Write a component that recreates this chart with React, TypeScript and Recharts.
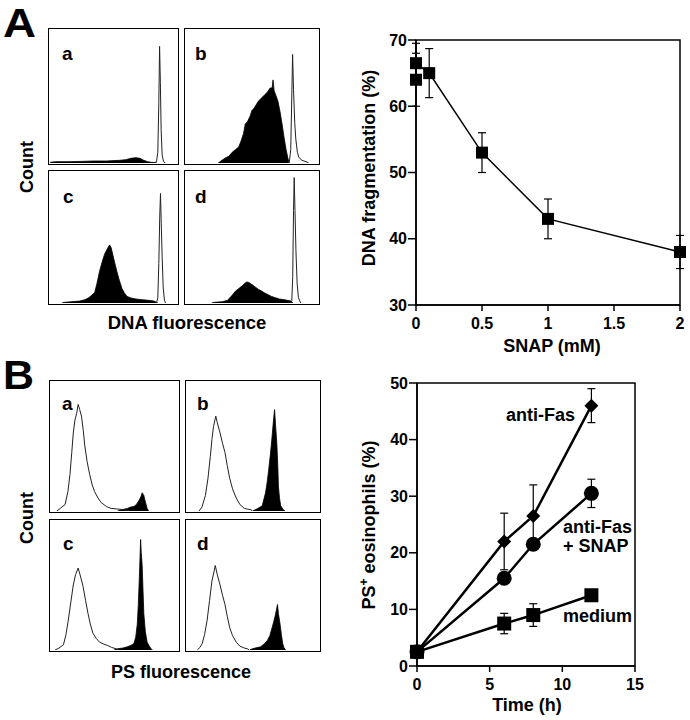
import React from 'react'
import {
  ComposedChart,
  Area,
  Line,
  Scatter,
  XAxis,
  YAxis,
  ErrorBar,
  ReferenceArea,
} from 'recharts'

const FONT = '"Liberation Sans", Arial, Helvetica, sans-serif'

// ---- Panel A histograms (x: 0-100 across box, y: % of box height) ----
const dnaAFill = [[1, 0.5], [5, 1], [15, 1], [25, 1.2], [35, 1.5], [45, 1.5], [55, 2], [60, 2.5], [64, 3.5], [68, 4], [71, 3.5], [74, 2], [77, 1], [80, 0.5], [84, 0.3]]
const dnaAOpen = [[82, 0], [84, 1], [85, 8], [85.8, 45], [86.4, 87], [87, 60], [87.6, 25], [88.4, 6], [89.5, 1], [91, 0]]
const dnaBFill = [[25, 0], [27, 1.5], [30.6, 4], [33, 5], [35.5, 8], [38, 10], [40.4, 12], [42, 16], [44, 22], [45.3, 29], [47, 31], [49, 35], [50.2, 39], [52, 41], [55.1, 46], [57, 48], [60, 51], [62, 53], [64, 56], [65.5, 56], [66.2, 62], [67, 54], [68.5, 50], [69.9, 46], [71.5, 38], [73, 29], [74.5, 19], [76, 10], [77.5, 3], [78.5, 0]]
const dnaBOpen = [[77.5, 0], [78.5, 1], [79.5, 10], [80.3, 50], [80.9, 81], [81.6, 55], [82.5, 30], [83.3, 18], [84.5, 8], [85.7, 4], [88, 2], [91, 1], [93, 0]]
const dnaCFill = [[10, 0], [12, 0.5], [18, 1], [24, 1.5], [28, 2.5], [31, 4], [33.5, 6], [35.7, 8], [37.5, 15], [39.5, 24], [41.5, 31], [43.4, 37], [45.5, 41], [47.3, 44], [48.5, 42], [50, 36], [51.2, 31], [53, 24], [55, 17], [57, 11], [58.9, 7.6], [61, 5], [64, 3.8], [68, 3], [73, 2.5], [78, 2], [82, 1.5], [84, 0.5], [85, 0]]
const dnaCOpen = [[84, 0], [85, 4], [85.8, 30], [86.5, 65], [87.1, 83], [87.7, 60], [88.4, 35], [89.2, 12], [90.2, 2], [91, 0]]
const dnaDFill = [[20, 0], [22, 0.5], [28, 1], [32, 2], [35.6, 6], [38, 9], [40.5, 11], [43, 13], [45, 15], [46.6, 16], [48, 15.5], [50.3, 14], [53, 12], [55, 10.5], [57.6, 9], [60, 7.5], [63, 6], [65, 5], [68, 4], [71, 3], [74.8, 2.5], [77, 2], [79.7, 1.5], [81, 0]]
const dnaDOpen = [[79.5, 0], [80.3, 2], [81, 20], [81.6, 70], [82.1, 95], [82.7, 70], [83.4, 40], [84.3, 15], [85.3, 4], [87, 0]]

// ---- Panel B histograms ----
const psAOpen = [[5.4, 0], [8, 2], [11.8, 5], [14, 15], [15.6, 28], [17, 45], [18.2, 60], [19.5, 70], [20.8, 75], [22, 82], [23.2, 78], [24.6, 73], [26, 62], [27.2, 50], [29, 38], [31, 28], [33, 20], [34.8, 15], [37.5, 10], [40, 6.5], [44, 3.5], [47.7, 2], [53, 1.5], [58, 1], [62, 0]]
const psAFill = [[52.8, 0], [56, 1], [60.5, 2], [63, 3], [65.6, 3.5], [67.5, 5], [69.5, 8], [71, 11], [72, 14], [73.3, 12], [74.5, 7], [75.9, 2], [77, 0]]
const psBOpen = [[9.8, 0], [12, 3], [14.6, 12], [16.5, 25], [18.3, 42], [19.5, 55], [20.7, 65], [22.4, 73], [23.5, 68], [25.6, 60], [27.5, 52], [29.3, 45], [31, 35], [32.9, 25], [35, 17], [37.8, 10], [40.5, 5], [43.9, 2], [46, 1.5], [48.8, 1], [50, 0]]
const psBFill = [[50, 0], [51.2, 0.5], [54, 2], [57.3, 4], [59.8, 14], [61, 22], [62.2, 32], [63.5, 44], [64.7, 57], [65.8, 70], [66.6, 78], [67.4, 65], [68.3, 52], [69, 35], [69.5, 19], [70.3, 10], [71.2, 4], [73.2, 1], [74.5, 0]]
const psCOpen = [[4, 0], [7, 1.5], [10.5, 4], [12.5, 12], [14.3, 23], [16.3, 37], [18.2, 50], [20, 58], [22, 63], [24, 56], [25.8, 49], [27.8, 38], [29.7, 28], [31.5, 20], [33.5, 13], [36, 9], [38.7, 6], [42, 4.5], [45, 3.5], [48, 2], [51.5, 1], [54, 0]]
const psCFill = [[50, 0], [53, 1], [57, 1.5], [60.5, 2.5], [63, 3.5], [65.6, 5], [67, 10], [68.2, 20], [69, 35], [69.7, 53], [70.3, 70], [70.8, 85], [71.3, 75], [72, 65], [72.7, 45], [73.3, 28], [74.5, 14], [75.9, 6], [77.5, 3], [79, 1], [80, 0]]
const psDOpen = [[8.5, 0], [10.5, 2], [12.2, 5], [14, 12], [15.9, 23], [17.7, 38], [19.5, 53], [21, 60], [22, 65], [23.5, 58], [25.6, 50], [27.5, 42], [29.3, 35], [31, 26], [32.9, 17], [35, 11], [37.8, 6], [40.5, 3], [43.9, 1.5], [46, 1], [47.5, 0]]
const psDFill = [[48, 0], [48.8, 0.5], [52, 1.5], [56.1, 2.5], [58.5, 4.5], [61, 7], [63, 11], [64.7, 17], [66, 22], [67.2, 27], [68, 31], [68.8, 35], [69.5, 28], [70.7, 20], [71.7, 12], [72.7, 5], [73.6, 2], [74.4, 0.5], [75, 0]]

// ---- Panel A line chart ----
const snapDose = [0, 0.1, 0.5, 1, 2]
const dnaFrag = [66.5, 65, 53, 43, 38]
const dnaFragErr = [3, 3.7, 3, 3, 2.5]
const extraDose = [0]
const extraFrag = [64]
const extraErr = [4]
const snapTicks = [0, 0.5, 1, 1.5, 2]
const fragTicks = [30, 40, 50, 60, 70]

// ---- Panel B line chart ----
const hours = [0, 6, 8, 12]
const antiFas = [2.5, 22, 26.5, 46]
const antiFasErr = [0, 5, 5.5, 3]
const antiFasSnap = [2.5, 15.5, 21.5, 30.5]
const antiFasSnapErr = [0, 0, 0, 2.5]
const medium = [2.5, 7.5, 9, 12.5]
const mediumErr = [0, 1.8, 2, 0]
const hourTicks = [0, 5, 10, 15]
const psTicks = [0, 10, 20, 30, 40, 50]

const toPts = (arr: number[][]) => arr.map(([x, y]) => ({ x, y }))

function Hist({ left, top, w, h, fill, open }: any) {
  return (
    <div
      style={{
        position: 'absolute', left, top, width: w, height: h,
        border: '1.5px solid #000', boxSizing: 'border-box', background: '#fff',
      }}
    >
      <ComposedChart width={w - 3} height={h - 3} margin={{ top: 0, right: 0, bottom: 0, left: 0 }}>
        <XAxis type="number" dataKey="x" domain={[0, 100]} hide />
        <YAxis type="number" domain={[0, 100]} hide />
        <Area data={toPts(fill)} dataKey="y" type="linear" stroke="#000" strokeWidth={0.8} fill="#000" fillOpacity={1} dot={false} isAnimationActive={false} />
        <Area data={toPts(open)} dataKey="y" type="linear" stroke="#222" strokeWidth={1} fill="none" dot={false} isAnimationActive={false} />
      </ComposedChart>
    </div>
  )
}

const square = (size: number) => (p: any) => (
  <rect key={`s${p.index}`} x={p.cx - size / 2} y={p.cy - size / 2} width={size} height={size} fill="#000" />
)
const circle = (r: number) => (p: any) => <circle key={`c${p.index}`} cx={p.cx} cy={p.cy} r={r} fill="#000" />
const diamond = (r: number) => (p: any) => (
  <polygon key={`d${p.index}`} points={`${p.cx},${p.cy - r} ${p.cx + r},${p.cy} ${p.cx},${p.cy + r} ${p.cx - r},${p.cy}`} fill="#000" />
)

const tickStyle = { fill: '#000', fontSize: 16, fontWeight: 700, fontFamily: FONT }
const axisLine = { stroke: '#000', strokeWidth: 1.5 }
const tickLine = { stroke: '#000', strokeWidth: 1.5 }

function DnaChart() {
  const rows = snapDose.map((d, i) => ({ dose: d, frag: dnaFrag[i], err: dnaFragErr[i] }))
  const extra = extraDose.map((d, i) => ({ dose: d, frag: extraFrag[i], err: extraErr[i] }))
  return (
    <ComposedChart width={360} height={340} data={rows} margin={{ top: 20, right: 10, bottom: 30, left: 30 }}>
      <ReferenceArea x1={0} x2={2} y1={30} y2={70} fill="none" stroke="#000" strokeWidth={1.5} />
      <XAxis type="number" dataKey="dose" domain={[0, 2]} ticks={snapTicks} height={25} tick={tickStyle} axisLine={axisLine} tickLine={tickLine} tickSize={6} tickMargin={7} />
      <YAxis type="number" domain={[30, 70]} ticks={fragTicks} width={56} tick={tickStyle} axisLine={axisLine} tickLine={tickLine} tickSize={8} tickMargin={1} />
      <Scatter data={extra} dataKey="frag" shape={square(12)} isAnimationActive={false}>
        <ErrorBar dataKey="err" direction="y" width={4} stroke="#000" strokeWidth={1.2} />
      </Scatter>
      <Line dataKey="frag" stroke="#000" strokeWidth={1.5} dot={square(12)} isAnimationActive={false}>
        <ErrorBar dataKey="err" direction="y" width={4} stroke="#000" strokeWidth={1.2} />
      </Line>
    </ComposedChart>
  )
}

function PsChart() {
  const rows = hours.map((h, i) => ({
    h, af: antiFas[i], afErr: antiFasErr[i], afs: antiFasSnap[i], afsErr: antiFasSnapErr[i], med: medium[i], medErr: mediumErr[i],
  }))
  return (
    <ComposedChart width={330} height={360} data={rows} margin={{ top: 23, right: 25, bottom: 29, left: 31 }}>
      <ReferenceArea x1={0} x2={15} y1={0} y2={50} fill="none" stroke="#000" strokeWidth={1.5} />
      <XAxis type="number" dataKey="h" domain={[0, 15]} ticks={hourTicks} height={25} tick={tickStyle} axisLine={axisLine} tickLine={tickLine} tickSize={6} tickMargin={7} />
      <YAxis type="number" domain={[0, 50]} ticks={psTicks} width={56} tick={tickStyle} axisLine={axisLine} tickLine={tickLine} tickSize={8} tickMargin={1} />
      <Line dataKey="med" stroke="#000" strokeWidth={2.5} dot={square(14)} isAnimationActive={false}>
        <ErrorBar dataKey="medErr" direction="y" width={4} stroke="#000" strokeWidth={1.2} />
      </Line>
      <Line dataKey="afs" stroke="#000" strokeWidth={2.5} dot={circle(7.5)} isAnimationActive={false}>
        <ErrorBar dataKey="afsErr" direction="y" width={4} stroke="#000" strokeWidth={1.2} />
      </Line>
      <Line dataKey="af" stroke="#000" strokeWidth={2.5} dot={diamond(7)} isAnimationActive={false}>
        <ErrorBar dataKey="afErr" direction="y" width={4} stroke="#000" strokeWidth={1.2} />
      </Line>
    </ComposedChart>
  )
}

export default function App() {
  const t = { fontFamily: FONT, fontWeight: 700, fill: '#000' } as any
  return (
    <div style={{ position: 'absolute', left: 0, top: 0, width: 690, height: 720, background: '#fff', fontFamily: FONT }}>
      <Hist left={48} top={28} w={131} h={137} fill={dnaAFill} open={dnaAOpen} />
      <Hist left={184} top={28} w={136} h={137} fill={dnaBFill} open={dnaBOpen} />
      <Hist left={48} top={170} w={131} h={135} fill={dnaCFill} open={dnaCOpen} />
      <Hist left={184} top={170} w={136} h={135} fill={dnaDFill} open={dnaDOpen} />

      <Hist left={49} top={380} w={131} h={133} fill={psAFill} open={psAOpen} />
      <Hist left={185} top={380} w={136} h={133} fill={psBFill} open={psBOpen} />
      <Hist left={49} top={519} w={131} h={133} fill={psCFill} open={psCOpen} />
      <Hist left={185} top={519} w={136} h={133} fill={psDFill} open={psDOpen} />

      <div style={{ position: 'absolute', left: 330, top: 20 }}>
        <DnaChart />
      </div>
      <div style={{ position: 'absolute', left: 330, top: 360 }}>
        <PsChart />
      </div>

      <svg width={690} height={720} style={{ position: 'absolute', left: 0, top: 0, pointerEvents: 'none' }}>
        <text {...t} x={3} y={37} fontSize={40} textLength={33} lengthAdjust="spacingAndGlyphs">A</text>
        <text {...t} x={3} y={389} fontSize={40} textLength={31} lengthAdjust="spacingAndGlyphs">B</text>

        <text {...t} x={62} y={60} fontSize={19}>a</text>
        <text {...t} x={195} y={60} fontSize={19}>b</text>
        <text {...t} x={63} y={203} fontSize={19}>c</text>
        <text {...t} x={195} y={203} fontSize={19}>d</text>
        <text {...t} x={62} y={410} fontSize={19}>a</text>
        <text {...t} x={197} y={410} fontSize={19}>b</text>
        <text {...t} x={63} y={550} fontSize={19}>c</text>
        <text {...t} x={197} y={550} fontSize={19}>d</text>

        <text {...t} fontSize={18} textAnchor="middle" transform="translate(33,167) rotate(-90)">Count</text>
        <text {...t} fontSize={18} textAnchor="middle" transform="translate(33,518) rotate(-90)">Count</text>
        <text {...t} x={187} y={329} fontSize={18.5} textAnchor="middle">DNA fluorescence</text>
        <text {...t} x={181} y={678} fontSize={18} textAnchor="middle">PS fluorescence</text>

        <text {...t} fontSize={18} textAnchor="middle" transform="translate(375,168) rotate(-90)">DNA fragmentation (%)</text>
        <text {...t} x={552} y={352} fontSize={18} textAnchor="middle">SNAP (mM)</text>

        <text {...t} fontSize={18} textAnchor="middle" transform="translate(375,525) rotate(-90)">
          PS<tspan fontSize={12} dy={-7}>+</tspan><tspan dy={7}> eosinophils (%)</tspan>
        </text>
        <text {...t} x={527} y={711} fontSize={18} textAnchor="middle">Time (h)</text>

        <text {...t} x={506} y={421} fontSize={18}>anti-Fas</text>
        <text {...t} x={563} y={533} fontSize={18}>
          anti-Fas
          <tspan x={563} dy={19}>+ SNAP</tspan>
        </text>
        <text {...t} x={563} y={622} fontSize={18}>medium</text>
      </svg>
    </div>
  )
}
